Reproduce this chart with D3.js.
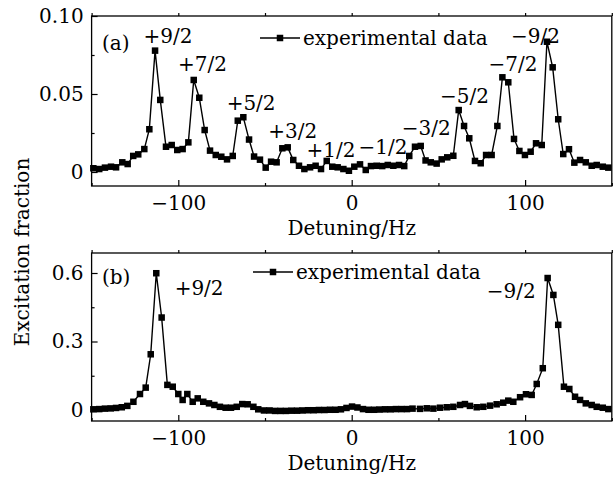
<!DOCTYPE html>
<html lang="en">
<head>
<meta charset="utf-8">
<title>Excitation fraction vs detuning</title>
<script src="https://cdnjs.cloudflare.com/ajax/libs/d3/7.8.5/d3.min.js"></script>
<style>
  body { margin: 0; background: #fff; }
  svg text { font-family: "DejaVu Serif", serif; font-size: 20px; fill: #000; }
</style>
</head>
<body>
<script>
// panel (a) data: detuning (Hz) and excitation fraction
const hzA = [-149.0,-145.6,-142.3,-138.8,-135.9,-132.3,-129.2,-126.0,-123.1,-119.6,-116.7,-113.4,-110.4,-107.1,-103.8,-100.6,-97.5,-94.2,-91.1,-87.9,-84.8,-81.7,-78.4,-75.2,-71.9,-68.6,-65.7,-62.5,-59.2,-56.3,-52.9,-49.6,-46.5,-43.3,-40.0,-36.9,-33.7,-30.4,-27.3,-24.0,-20.8,-17.7,-14.4,-11.2,-8.1,-4.8,-1.6,1.5,4.8,8.1,11.1,14.4,17.6,20.8,24.0,27.3,30.3,33.2,36.5,39.8,42.6,45.6,49.0,51.9,55.1,58.6,61.7,64.8,67.8,71.1,74.4,77.5,80.7,84.0,86.9,90.3,93.6,96.7,99.9,103.2,106.3,109.6,112.6,115.9,119.1,122.0,125.3,128.4,131.7,135.0,138.4,141.3,144.8,148.0];
const valA = [0.0024,0.0019,0.0028,0.0034,0.0030,0.0062,0.0051,0.0103,0.0113,0.0147,0.0274,0.0778,0.0462,0.0162,0.0173,0.0141,0.0147,0.0190,0.0590,0.0476,0.0269,0.0137,0.0109,0.0098,0.0081,0.0103,0.0329,0.0351,0.0208,0.0099,0.0079,0.0028,0.0066,0.0062,0.0152,0.0158,0.0077,0.0040,0.0019,0.0030,0.0040,0.0019,0.0071,0.0034,0.0030,0.0019,0.0008,0.0034,0.0049,0.0013,0.0038,0.0040,0.0038,0.0045,0.0040,0.0045,0.0038,0.0103,0.0162,0.0167,0.0074,0.0062,0.0054,0.0081,0.0094,0.0104,0.0397,0.0295,0.0216,0.0071,0.0056,0.0109,0.0109,0.0295,0.0607,0.0575,0.0212,0.0135,0.0109,0.0130,0.0184,0.0173,0.0835,0.0671,0.0338,0.0115,0.0146,0.0060,0.0077,0.0062,0.0040,0.0045,0.0034,0.0028];

// panel (b) data
const hzB = [-149.0,-145.6,-142.3,-139.0,-135.9,-132.6,-129.4,-125.9,-122.1,-118.8,-115.9,-112.7,-109.6,-106.3,-103.2,-100.0,-97.5,-94.8,-91.7,-88.8,-85.6,-82.3,-79.2,-76.0,-72.7,-69.6,-66.3,-63.1,-60.0,-56.7,-53.9,-50.6,-47.4,-44.2,-41.1,-37.9,-34.7,-31.5,-28.4,-25.2,-22.0,-18.9,-15.7,-12.5,-9.3,-6.2,-3.0,0.2,3.3,6.5,9.7,12.9,16.0,19.2,22.4,25.5,28.7,31.9,35.1,39.4,43.3,47.1,50.9,54.8,58.6,62.5,65.3,68.2,72.1,75.9,79.8,83.6,87.4,90.3,93.2,97.1,100.5,103.8,106.7,110.2,113.0,116.3,119.1,122.4,125.5,128.8,131.7,135.0,138.4,141.3,144.8,148.0];
const valB = [0.003,0.004,0.006,0.007,0.009,0.012,0.018,0.036,0.070,0.098,0.244,0.599,0.405,0.110,0.102,0.070,0.044,0.070,0.036,0.051,0.036,0.029,0.022,0.014,0.010,0.010,0.014,0.026,0.025,0.014,0.003,-0.002,-0.002,-0.004,-0.004,-0.004,-0.003,-0.003,-0.002,-0.001,-0.001,0.000,0.000,0.001,0.001,0.003,0.009,0.015,0.011,0.004,0.001,0.001,0.002,0.003,0.003,0.004,0.004,0.004,0.006,0.005,0.0075,0.006,0.010,0.012,0.014,0.022,0.026,0.018,0.012,0.014,0.019,0.025,0.032,0.041,0.036,0.056,0.069,0.066,0.114,0.183,0.578,0.504,0.373,0.102,0.092,0.058,0.044,0.029,0.022,0.014,0.010,0.004];

// axis ticks
const xMajor = [-100, 0, 100];
const xMinor = [-150, -50, 50, 150];
const yMajorA = [0, 0.05, 0.1];
const yMinorA = [0.025, 0.075];
const yLabelsA = ["0", "0.05", "0.10"];
const yMajorB = [0, 0.3, 0.6];
const yMinorB = [0.15, 0.45];
const yLabelsB = ["0", "0.3", "0.6"];

// peak annotations: [label, detuning, value where text sits]
const peaksA = [["+9/2",-106,0.087],["+7/2",-86,0.069],["+5/2",-58,0.044],["+3/2",-34,0.026],["+1/2",-12,0.014],["\u22121/2",18,0.016],["\u22123/2",43,0.028],["\u22125/2",65,0.049],["\u22127/2",93,0.069],["\u22129/2",106,0.087]];
const peaksB = [["+9/2",-88,0.535],["\u22129/2",92,0.52]];

const W = 613, H = 480;
const svg = d3.select("body").append("svg").attr("width", W).attr("height", H);

const x = d3.scaleLinear().domain([-150, 150]).range([91.6, 611.8]);

function panel(opt) {
  const y = d3.scaleLinear().domain(opt.ydom).range(opt.yrange);
  const g = svg.append("g");
  const top = opt.frame[0], bottom = opt.frame[1];

  // frame
  g.append("rect")
    .attr("x", x.range()[0]).attr("y", top)
    .attr("width", x.range()[1] - x.range()[0]).attr("height", bottom - top)
    .attr("fill", "none").attr("stroke", "#000").attr("stroke-width", 1.3);

  // bottom axis
  const xb = g.append("g").attr("transform", "translate(0," + bottom + ")")
    .call(d3.axisBottom(x).tickValues(xMajor).tickSize(-6).tickPadding(10).tickFormat(d3.format("d")));
  g.append("g").attr("transform", "translate(0," + bottom + ")")
    .call(d3.axisBottom(x).tickValues(xMinor).tickSize(-3).tickFormat(""));
  // top axis short marks
  g.append("g").attr("transform", "translate(0," + top + ")")
    .call(d3.axisTop(x).tickValues(xMajor.concat(xMinor)).tickSize(3).tickFormat(""));

  // left axis
  g.append("g").attr("transform", "translate(" + x.range()[0] + ",0)")
    .call(d3.axisLeft(y).tickValues(opt.yMajor).tickSize(-6).tickPadding(8)
      .tickFormat((d, i) => opt.yLabels[i]));
  g.append("g").attr("transform", "translate(" + x.range()[0] + ",0)")
    .call(d3.axisLeft(y).tickValues(opt.yMinor).tickSize(-3).tickFormat(""));

  g.selectAll(".domain").remove();
  g.selectAll(".tick line").attr("stroke", "#000").attr("stroke-width", 1.2);
  g.selectAll(".tick text").style("font-family", "DejaVu Serif").style("font-size", "20px");

  // x title
  g.append("text").attr("x", x(0)).attr("y", bottom + 42)
    .attr("text-anchor", "middle").attr("dominant-baseline", "central")
    .text("Detuning/Hz");

  // data line and markers
  const pts = opt.hz.map((h, i) => [h, opt.val[i]]);
  g.append("path").datum(pts)
    .attr("d", d3.line().x(d => x(d[0])).y(d => y(d[1])))
    .attr("fill", "none").attr("stroke", "#000").attr("stroke-width", 1.4);
  const s = 6.5;
  g.selectAll("rect.pt").data(pts).join("rect").attr("class", "pt")
    .attr("x", d => x(d[0]) - s / 2).attr("y", d => y(d[1]) - s / 2)
    .attr("width", s).attr("height", s).attr("fill", "#000");

  // panel tag
  g.append("text").attr("x", 102).attr("y", opt.tagY)
    .attr("dominant-baseline", "central").text(opt.tag);

  // legend
  const ly = opt.legend[1], lx = opt.legend[0];
  g.append("line").attr("x1", lx).attr("x2", lx + 40).attr("y1", ly).attr("y2", ly)
    .attr("stroke", "#000").attr("stroke-width", 1.4);
  g.append("rect").attr("x", lx + 20 - s / 2).attr("y", ly - s / 2)
    .attr("width", s).attr("height", s).attr("fill", "#000");
  g.append("text").attr("x", lx + 43).attr("y", ly)
    .attr("dominant-baseline", "central").text("experimental data");

  // peak labels
  g.selectAll("text.pk").data(opt.peaks).join("text").attr("class", "pk")
    .attr("x", d => x(d[1])).attr("y", d => y(d[2]))
    .attr("text-anchor", "middle").attr("dominant-baseline", "central")
    .text(d => d[0]);
}

panel({ hz: hzA, val: valA, ydom: [0, 0.1], yrange: [172, 16], frame: [16, 186],
  yMajor: yMajorA, yMinor: yMinorA, yLabels: yLabelsA, tag: "(a)", tagY: 43,
  legend: [260, 38], peaks: peaksA });

panel({ hz: hzB, val: valB, ydom: [0, 0.6], yrange: [410, 273], frame: [253, 421],
  yMajor: yMajorB, yMinor: yMinorB, yLabels: yLabelsB, tag: "(b)", tagY: 277,
  legend: [253, 272], peaks: peaksB });

// shared y title
svg.append("text")
  .attr("transform", "translate(22,252) rotate(-90)")
  .attr("text-anchor", "middle").attr("dominant-baseline", "central")
  .text("Excitation fraction");
</script>
</body>
</html>
